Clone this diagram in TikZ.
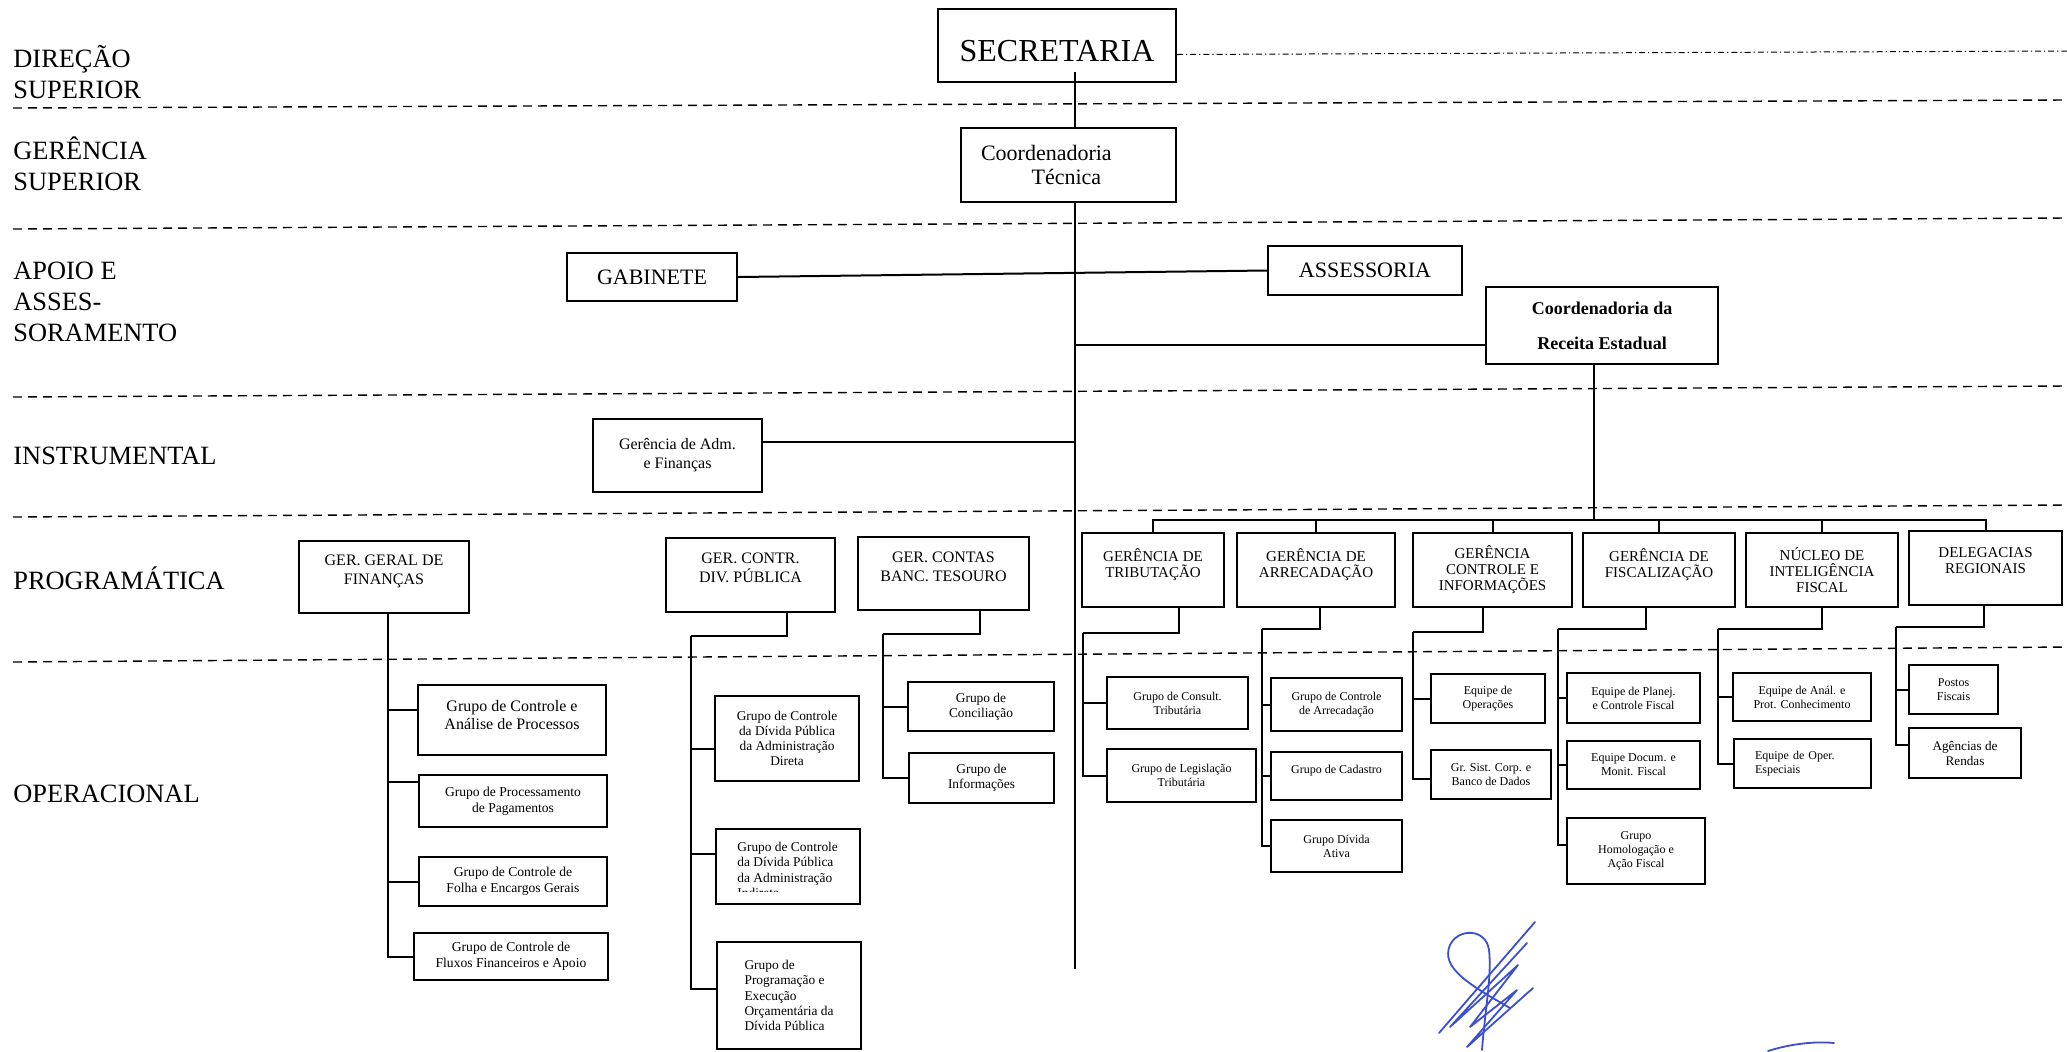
\documentclass[tikz,border=0pt]{standalone}
\usepackage{fontspec}
\setmainfont{Liberation Serif}
\newcommand{\setfs}[2]{\fontsize{#1}{#2}\selectfont}
\definecolor{sigblue}{RGB}{60,80,205}
\tikzset{
  box/.style 2 args={draw, line width=1pt, minimum width=#1, minimum height=#2, inner sep=1pt, align=center},
  link/.style={line width=1pt},
  trunk/.style={line width=1.4pt},
  level/.style={line width=0.7pt, dash pattern=on 4.5pt off 3pt},
  toplevel/.style={line width=0.5pt, dash pattern=on 3pt off 1.5pt on 0.6pt off 1.5pt},
  layer/.style={anchor=west, align=left, inner sep=0pt, font=\setfs{13.2}{15.5}},
  big/.style={font=\setfs{16}{18}},
  head/.style={font=\setfs{11}{12}},
  ger/.style={font=\setfs{8}{9.5}},
  gerrow/.style={font=\setfs{7.5}{8}},
  grp/.style={font=\setfs{6.8}{7.9}},
  div/.style={font=\setfs{6.7}{7.6}},
  team/.style={font=\setfs{6}{7}},
  upper/.style={text depth=7pt},
  sig/.style={draw=sigblue, line width=0.9pt, line cap=round, line join=round}
}

\begin{document}
\begin{tikzpicture}[x=0.5pt, y=-0.5pt]
    \useasboundingbox (0,0) rectangle (2067,1051);

    % Draw the level separators
    \draw[level] (13,108) -- (2067,100);
    \draw[level] (13,229) -- (2067,218);
    \draw[level] (13,397) -- (2067,386);
    \draw[level] (13,517) -- (2067,505);
    \draw[level] (13,662) -- (2067,647);

    % Level names
    \node[layer] (dir) at (13,72) {DIREÇÃO\\SUPERIOR};
    \node[layer] (gsup) at (13,164) {GERÊNCIA\\SUPERIOR};
    \node[layer] (apoio) at (13,302) {APOIO E\\ASSES-\\SORAMENTO};
    \node[layer] (instr) at (13,456) {INSTRUMENTAL};
    \node[layer] (progr) at (13,578) {PROGRAMÁTICA};
    \node[layer] (oper) at (13,794) {OPERACIONAL};

    % Top of the chart
    \node[box={119pt}{36.5pt}, big, text height=16pt] (sec) at (1057,45.5) {SECRETARIA};
    \draw[toplevel] ([yshift=-4.5pt]sec.east) -- (2067,51);
    \node[box={0pt}{37pt}, head, align=left, text width=87.5pt, inner xsep=10pt] (coord) at (1068.5,165) {Coordenadoria\\\hspace*{2.3em}Técnica};
    \node[box={85pt}{24pt}, head] (gab) at (652,277) {GABINETE};
    \node[box={97pt}{24.5pt}, head] (ass) at (1365,270.5) {ASSESSORIA};
    \node[box={116pt}{38.5pt}, font=\setfs{9}{17.5}\bfseries] (cre) at (1602,325.5) {Coordenadoria da\\Receita Estadual};
    \node[box={84.5pt}{36.5pt}, ger] (adm) at (677.5,455.5) {Gerência de Adm.\\e Finanças};

    % Main trunk
    \coordinate (trunktop) at (1075,72);
    \coordinate (trunkend) at (1075,969);
    \draw[trunk] (trunktop) -- (trunktop |- coord.north);
    \draw[trunk] (coord.south -| trunktop) -- (trunkend);
    \draw[link] (gab.east) -- (ass.west);
    \draw[link] ([yshift=-9.5pt]cre.west) -- ([yshift=-9.5pt]cre.west -| trunkend);
    \draw[link] ([yshift=7pt]adm.east) -- ([yshift=7pt]adm.east -| trunkend);

    % Programmatic level, left
    \node[box={85pt}{36pt}, ger, upper] (gerfin) at (384,577) {GER. GERAL DE\\FINANÇAS};
    \node[box={84.5pt}{37pt}, ger, upper] (gerdiv) at (750.5,575) {GER. CONTR.\\DIV. PÚBLICA};
    \node[box={85.5pt}{36.5pt}, ger, upper] (gercontas) at (943.5,573.5) {GER. CONTAS\\BANC. TESOURO};

    % Programmatic level, right
    \node[box={71pt}{37pt}, gerrow, upper] (trib) at (1153,570) {GERÊNCIA DE\\TRIBUTAÇÃO};
    \node[box={79pt}{37pt}, gerrow, upper] (arrec) at (1316,570) {GERÊNCIA DE\\ARRECADAÇÃO};
    \node[box={79.5pt}{37pt}, gerrow] (ctrl) at (1492.5,570) {GERÊNCIA\\CONTROLE E\\INFORMAÇÕES};
    \node[box={76pt}{37pt}, gerrow, upper] (fisc) at (1659,570) {GERÊNCIA DE\\FISCALIZAÇÃO};
    \node[box={76pt}{37pt}, gerrow] (nucleo) at (1822,570) {NÚCLEO DE\\INTELIGÊNCIA\\FISCAL};
    \node[box={76.5pt}{37pt}, gerrow, upper] (deleg) at (1985.5,568) {DELEGACIAS\\REGIONAIS};

    \coordinate (bus) at (1594,520);
    \draw[link] (cre.south -| bus) -- (bus);
    \foreach \g in {trib,arrec,ctrl,fisc,nucleo,deleg}
        \draw[link] (bus) -| (\g.north);

    % Operational level: Ger. Geral de Finanças
    \node[box={94pt}{35pt}, font=\setfs{8}{9.3}, text depth=5pt] (analise) at (512,720) {Grupo de Controle e\\Análise de Processos};
    \node[box={94pt}{26pt}, grp] (pagam) at (513,801) {Grupo de Processamento\\de Pagamentos};
    \node[box={94pt}{24.5pt}, grp] (folha) at (513,881.5) {Grupo de Controle de\\Folha e Encargos Gerais};
    \node[box={97pt}{23.5pt}, grp] (fluxos) at (511,956.5) {Grupo de Controle de\\Fluxos Financeiros e Apoio};
    \coordinate (finbar) at (388,613);
    \draw[link] (finbar) |- ([yshift=5pt]analise.west);
    \draw[link] (finbar) |- ([yshift=9.5pt]pagam.west);
    \draw[link] (finbar) |- (folha.west);
    \draw[link] (finbar) |- (fluxos.west);

    % Ger. Contr. Div. Pública
    \node[box={72pt}{42.5pt}, div] (direta) at (787,738.5) {Grupo de Controle\\da Dívida Pública\\da Administração\\Direta};
    \node[box={72pt}{37.5pt}] (indireta) at (788,866.5) {};
    \begin{scope}
        \clip (716,829) rectangle (860,891);
        \node[div, anchor=north west, align=left, inner sep=0pt] (indtext) at (737,842) {Grupo de Controle\\da Dívida Pública\\da Administração\\Indireta};
    \end{scope}
    \node[box={72pt}{53.5pt}, div, align=left] (orcam) at (789,995.5) {Grupo de\\Programação e\\Execução\\Orçamentária da\\Dívida Pública};
    \coordinate (divbar) at (691,636);
    \draw[link] ([xshift=18pt]gerdiv.south) |- (divbar);
    \draw[link] (divbar) |- ([yshift=-5pt]direta.west);
    \draw[link] (divbar) |- ([yshift=6.5pt]indireta.west);
    \draw[link] (divbar) |- ([yshift=3.5pt]orcam.west);

    % Ger. Contas Banc. Tesouro
    \node[box={73pt}{24.5pt}, div] (concil) at (981,706.5) {Grupo de\\Conciliação};
    \node[box={72.5pt}{25pt}, div] (inform) at (981.5,778) {Grupo de\\Informações};
    \coordinate (contbar) at (883,634);
    \draw[link] ([xshift=18pt]gercontas.south) |- (contbar);
    \foreach \c in {concil,inform}
        \draw[link] (contbar) |- (\c.west);

    % Gerência de Tributação
    \node[box={70.5pt}{26pt}, team] (consult) at (1177.5,703) {Grupo de Consult.\\Tributária};
    \node[box={74.5pt}{26.5pt}, team] (legis) at (1181.5,775.5) {Grupo de Legislação\\Tributária};
    \coordinate (tribbar) at (1083,633);
    \draw[link] ([xshift=13pt]trib.south) |- (tribbar);
    \foreach \c in {consult,legis}
        \draw[link] (tribbar) |- (\c.west);

    % Gerência de Arrecadação
    \node[box={65.5pt}{26.5pt}, team] (ctrlarrec) at (1336.5,704.5) {Grupo de Controle\\de Arrecadação};
    \node[box={65.5pt}{24pt}, team, upper] (cadastro) at (1336.5,776) {Grupo de Cadastro};
    \node[box={65.5pt}{26pt}, team] (divativa) at (1336.5,846) {Grupo Dívida\\Ativa};
    \coordinate (arrbar) at (1262,629);
    \draw[link] ([xshift=2pt]arrec.south) |- (arrbar);
    \foreach \c in {ctrlarrec,cadastro,divativa}
        \draw[link] (arrbar) |- (\c.west);

    % Gerência Controle e Informações
    \node[box={57pt}{24.5pt}, team] (operacoes) at (1488,698.5) {Equipe de\\Operações};
    \node[box={60pt}{24.5pt}, team] (sistcorp) at (1491,774.5) {Gr. Sist. Corp. e\\Banco de Dados};
    \coordinate (ctrlbar) at (1413,632);
    \draw[link] ([xshift=-5pt]ctrl.south) |- (ctrlbar);
    \draw[link] (ctrlbar) |- (operacoes.west);
    \draw[link] (ctrlbar) |- ([yshift=-2pt]sistcorp.west);

    % Gerência de Fiscalização
    \node[box={66.5pt}{25pt}, team] (planej) at (1633.5,698) {Equipe de Planej.\\e Controle Fiscal};
    \node[box={66.5pt}{24pt}, team] (docum) at (1633.5,765) {Equipe Docum. e\\Monit. Fiscal};
    \node[box={69pt}{33pt}, team] (homolog) at (1636,851) {Grupo\\Homologação e\\Ação Fiscal};
    \coordinate (fiscbar) at (1558,629);
    \draw[link] ([xshift=-6.5pt]fisc.south) |- (fiscbar);
    \draw[link] (fiscbar) |- (planej.west);
    \draw[link] (fiscbar) |- (docum.west);
    \draw[link] (fiscbar) |- ([yshift=3pt]homolog.west);

    % Núcleo de Inteligência Fiscal
    \node[box={69pt}{24pt}, team] (anal) at (1802,697) {Equipe de Anál. e\\Prot. Conhecimento};
    \node[box={68.5pt}{24.5pt}, team, align=left, text width=47.5pt, inner xsep=10.5pt] (operesp) at (1802.5,763.5) {Equipe de Oper.\\Especiais};
    \coordinate (nucbar) at (1718,629);
    \draw[link] (nucleo.south) |- (nucbar);
    \foreach \c in {anal,operesp}
        \draw[link] (nucbar) |- (\c.west);

    % Delegacias Regionais
    \node[box={44.5pt}{24.5pt}, team] (postos) at (1953.5,689.5) {Postos\\Fiscais};
    \node[box={56pt}{25pt}, font=\setfs{6.6}{7.5}] (agencias) at (1965,753) {Agências de\\Rendas};
    \coordinate (delbar) at (1896,627);
    \draw[link] ([xshift=-1pt]deleg.south) |- (delbar);
    \draw[link] (delbar) |- (postos.west);
    \draw[link] (delbar) |- ([yshift=4pt]agencias.west);

    % Signature
    \draw[sig] (1535,922) -- (1439,1033);
    \draw[sig] (1510,1008) .. controls (1470,985) and (1440,968) .. (1450,945)
        .. controls (1458,928) and (1486,928) .. (1489,950)
        .. controls (1492,975) and (1485,1010) .. (1482,1050);
    \draw[sig] (1527,943) -- (1450,1027) -- (1518,965) -- (1470,1027) -- (1517,990) -- (1467,1047) -- (1533,988);
    \draw[sig] (1768,1051) .. controls (1790,1044) and (1815,1041) .. (1834,1043);
\end{tikzpicture}
\end{document}
